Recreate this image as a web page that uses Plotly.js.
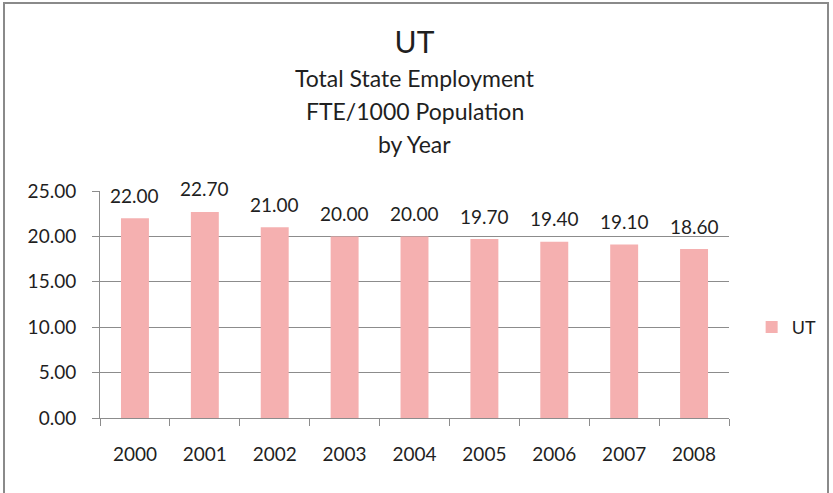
<!DOCTYPE html>
<html>
<head>
<meta charset="utf-8">
<script src="https://cdn.plot.ly/plotly-3.0.1.min.js"></script>
<style>
html,body{margin:0;padding:0;background:#fff;}
#wrap{position:relative;width:833px;height:493px;}
#chart{width:833px;height:493px;}
#frame{position:absolute;left:3px;top:2px;width:826px;height:500px;border:2px solid #8a8a8a;border-bottom:none;pointer-events:none;box-sizing:border-box;}
</style>
</head>
<body>
<div id="wrap"><div id="chart"></div><div id="frame"></div></div>
<script>
var years = ['2000','2001','2002','2003','2004','2005','2006','2007','2008'];
var values = [22.00, 22.70, 21.00, 20.00, 20.00, 19.70, 19.40, 19.10, 18.60];
var seriesName = 'UT';
var titleText = 'UT';
var subtitleLines = ['Total State Employment', 'FTE/1000 Population', 'by Year'];
var yTicks = [0, 5, 10, 15, 20, 25];

var FONT = 'Lato, "Open Sans", sans-serif';
var TXT = '#1f1f1f';
var BAR = '#f5b0b0';
var GRID = '#8c8c8c';

var trace = {
  type: 'bar',
  x: years,
  y: values,
  name: seriesName,
  marker: {color: BAR},
  showlegend: true,
  hoverinfo: 'x+y'
};

// annotations on a category axis: use the category index
var labelAnns = years.map(function(yr, i){
  return {
    x: i, y: values[i], xref: 'x', yref: 'y',
    text: values[i].toFixed(2), showarrow: false,
    yanchor: 'middle', yshift: 23,
    font: {family: FONT, size: 19, color: TXT}
  };
});

var subPos = [1.498, 1.352, 1.207];
var subAnns = subtitleLines.map(function(t, i){
  return {
    x: 0.5, y: subPos[i], xref: 'paper', yref: 'paper',
    text: t, showarrow: false, xanchor: 'center', yanchor: 'middle',
    font: {family: FONT, size: 23, color: TXT}
  };
});

var layout = {
  width: 833, height: 493,
  margin: {l: 100, r: 104, t: 191, b: 75, autoexpand: false},
  paper_bgcolor: '#ffffff', plot_bgcolor: '#ffffff',
  font: {family: FONT, color: TXT, size: 16},
  title: {
    text: titleText, x: 0.5, xref: 'paper', y: 1 - 42/493, yref: 'container',
    xanchor: 'center', yanchor: 'middle',
    font: {family: FONT, size: 30, color: TXT}
  },
  bargap: 0.6,
  xaxis: {
    type: 'category', range: [-0.5, years.length - 0.5], autorange: false,
    showline: true, linecolor: GRID, linewidth: 1,
    ticks: 'outside', tickson: 'boundaries', ticklen: 7, tickcolor: GRID,
    tickfont: {family: FONT, size: 19, color: TXT},
    tickangle: 0, ticklabelstandoff: 19,
    showgrid: false, zeroline: false
  },
  yaxis: {
    range: [0, 25], autorange: false, tickvals: yTicks, ticktext: yTicks.map(function(v){return v.toFixed(2);}),
    showline: true, linecolor: GRID, linewidth: 1,
    ticks: 'outside', ticklen: 7, tickcolor: GRID,
    showgrid: true, gridcolor: GRID, gridwidth: 1,
    zeroline: false,
    tickfont: {family: FONT, size: 19, color: TXT},
    ticklabelstandoff: 12
  },
  legend: {
    x: 1.036, y: 0.40, xanchor: 'left', yanchor: 'middle',
    font: {family: FONT, size: 18, color: TXT},
    itemwidth: 30, bgcolor: 'rgba(0,0,0,0)'
  },
  annotations: labelAnns.concat(subAnns)
};

Plotly.newPlot('chart', [trace], layout, {displayModeBar: false, staticPlot: true});
</script>
</body>
</html>
